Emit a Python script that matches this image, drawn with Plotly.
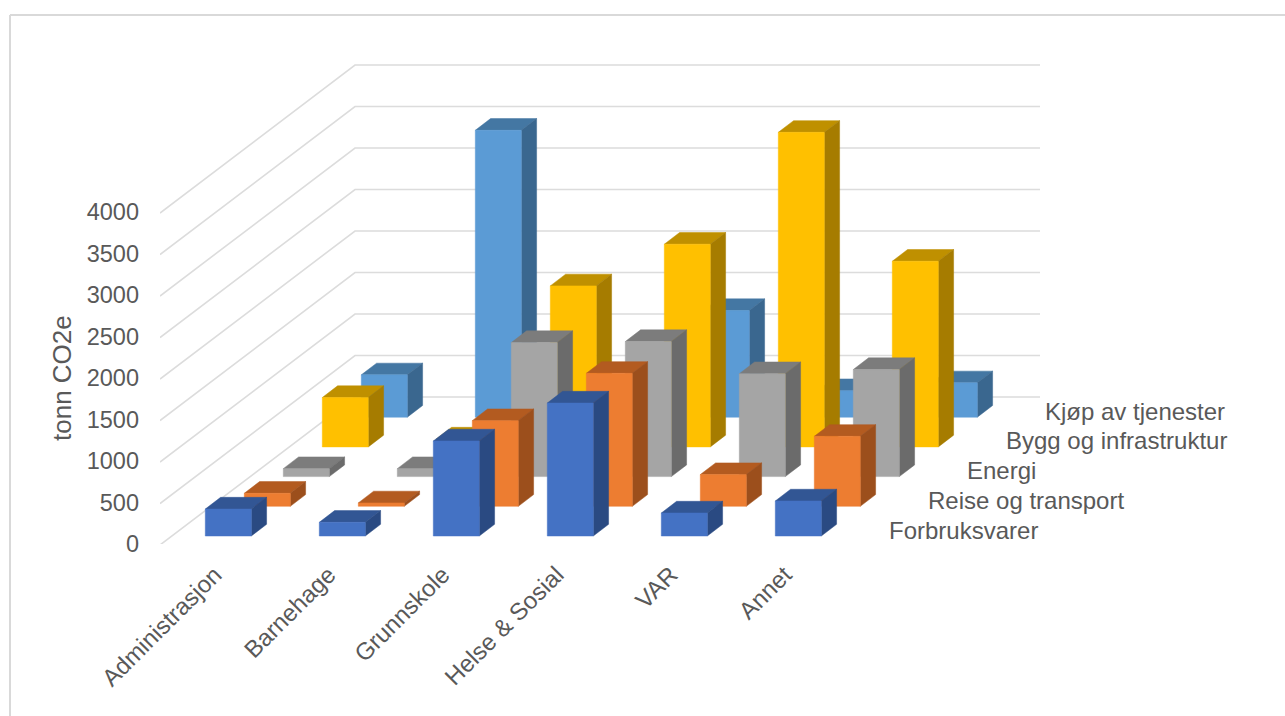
import plotly.graph_objects as go

categories = ["Administrasjon", "Barnehage", "Grunnskole", "Helse & Sosial", "VAR", "Annet"]
series_names = ["Forbruksvarer", "Reise og transport", "Energi", "Bygg og infrastruktur", "Kjøp av tjenester"]

forbruksvarer = [325, 165, 1145, 1602, 277, 422]
reise_og_transport = [157, 41, 1032, 1602, 382, 843]
energi = [96, 96, 1615, 1627, 1240, 1290]
bygg_og_infrastruktur = [595, 95, 1940, 2442, 3790, 2237]
kjop_av_tjenester = [510, 3457, 300, 1285, 320, 414]
series_values = [forbruksvarer, reise_og_transport, energi, bygg_og_infrastruktur, kjop_av_tjenester]

y_ticks = [0, 500, 1000, 1500, 2000, 2500, 3000, 3500, 4000]

front_colors = ["#4472C4", "#ED7D31", "#A5A5A5", "#FFC000", "#5B9BD5"]
top_colors = ["#325694", "#B35B20", "#7C7C7C", "#BF9000", "#4477A3"]
side_colors = ["#2A4A82", "#9C4F1C", "#6B6B6B", "#A67C00", "#3A678F"]

# Oblique projection: one axis unit in x is one category slot, y is in tonn CO2e
PX_X = 114.0
PX_Y = 41.5 / 500
L, AXIS_Y = 160, 544
W, H = 1285, 716


def dx(px):
    return px / PX_X


def dy(px):
    return px / PX_Y


def polys(faces):
    xs, ys = [], []
    for f in faces:
        xs += [p[0] for p in f] + [f[0][0], None]
        ys += [p[1] for p in f] + [f[0][1], None]
    return xs, ys


traces = []

# left wall + back wall gridlines
wall_x = dx(195)
wall_y = dy(147)
drop = dy(1)
grid_end = dx(1040 - L)
gx, gy = [], []
for v in y_ticks:
    gx += [0, wall_x, grid_end, None]
    gy += [v - drop, v + wall_y, v + wall_y, None]
traces.append(go.Scatter(x=gx, y=gy, mode="lines", line=dict(color="#DCDCDC", width=1.6),
                         hoverinfo="skip", showlegend=False, cliponaxis=False))

bar_w = dx(46)
side_x = dx(15.3)
side_y = dy(11.7)
start_x = dx(45.3)
step_x = dx(39)
base0 = dy(AXIS_Y - 536)
step_y = dy(29.7)

for s in range(len(series_names) - 1, -1, -1):
    tops, sides, fronts = [], [], []
    for c, val in enumerate(series_values[s]):
        x0 = c + start_x + s * step_x
        x1 = x0 + bar_w
        b = base0 + s * step_y
        t = b + val
        fronts.append([(x0, b), (x1, b), (x1, t), (x0, t)])
        tops.append([(x0, t), (x1, t), (x1 + side_x, t + side_y), (x0 + side_x, t + side_y)])
        sides.append([(x1, b), (x1 + side_x, b + side_y), (x1 + side_x, t + side_y), (x1, t)])
    for faces, col in ((tops, top_colors[s]), (sides, side_colors[s]), (fronts, front_colors[s])):
        xs, ys = polys(faces)
        traces.append(go.Scatter(x=xs, y=ys, mode="lines", fill="toself", fillcolor=col,
                                 line=dict(color=col, width=0.5), name=series_names[s],
                                 hoverinfo="name", showlegend=False, cliponaxis=False))

fig = go.Figure(traces)

FONT = "Liberation Sans, Arial, sans-serif"
TXT = "#595959"

annotations = []
label_x0 = dx(887 - L)
label_y0 = dy(AXIS_Y - 530)
for s, name in enumerate(series_names):
    annotations.append(dict(x=label_x0 + s * step_x, y=label_y0 + s * step_y, text=name,
                            xref="x", yref="y", xanchor="left", yanchor="middle",
                            showarrow=False, font=dict(family=FONT, size=24, color=TXT)))
annotations.append(dict(x=(62 - L) / (W - L), y=(AXIS_Y - 378) / AXIS_Y, xref="paper", yref="paper",
                        xanchor="center", yanchor="middle", text="tonn CO2e", textangle=-90,
                        showarrow=False, font=dict(family=FONT, size=26, color=TXT)))

frame_x = (10 - L) / (W - L)
frame_y = (AXIS_Y - 15) / AXIS_Y
frame_b = (AXIS_Y - H) / AXIS_Y

fig.update_layout(
    width=W, height=H,
    margin=dict(l=L, r=0, t=0, b=H - AXIS_Y, pad=0),
    paper_bgcolor="white", plot_bgcolor="white",
    font=dict(family=FONT, size=23, color=TXT),
    showlegend=False,
    annotations=annotations,
    shapes=[dict(type="line", xref="paper", yref="paper", x0=frame_x, x1=1, y0=frame_y, y1=frame_y,
                 line=dict(color="#D9D9D9", width=2)),
            dict(type="line", xref="paper", yref="paper", x0=frame_x, x1=frame_x, y0=frame_y, y1=frame_b,
                 line=dict(color="#D9D9D9", width=2))],
    xaxis=dict(range=[0, (W - L) / PX_X], tickmode="array",
               tickvals=[i + 0.48 for i in range(len(categories))], ticktext=categories,
               tickangle=-45, showgrid=False, zeroline=False, showline=False, ticks="",
               ticklabelstandoff=11, tickfont=dict(family=FONT, size=24, color=TXT)),
    yaxis=dict(range=[0, AXIS_Y / PX_Y], tickmode="array", tickvals=y_ticks,
               ticktext=[str(v) for v in y_ticks], showgrid=False, zeroline=False, showline=False,
               ticks="", ticklabelstandoff=20, tickfont=dict(family=FONT, size=23.5, color=TXT)),
)

fig.write_html("out.html", config={"displayModeBar": False},
               post_script="document.body.style.margin='0';document.body.style.overflow='hidden';")
